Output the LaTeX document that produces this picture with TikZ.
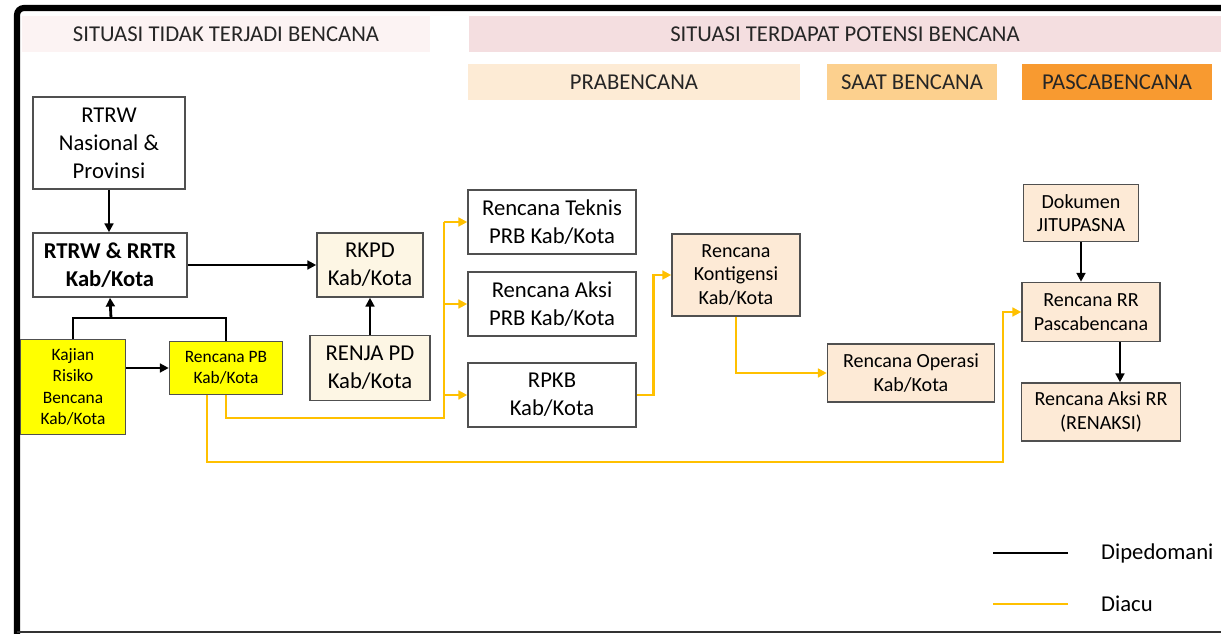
\documentclass[tikz,border=0pt]{standalone}
\usepackage{fontspec}
\setmainfont{Carlito}
\usepackage{tikz}
\usetikzlibrary{arrows.meta,positioning,calc}
\definecolor{titleLight}{RGB}{252,243,243}
\definecolor{sitPink}{RGB}{244,222,224}
\definecolor{praPeach}{RGB}{253,235,213}
\definecolor{saatOrange}{RGB}{252,208,142}
\definecolor{pascaOrange}{RGB}{248,154,48}
\definecolor{boxPeach}{RGB}{253,234,214}
\definecolor{boxCream}{RGB}{253,246,228}
\definecolor{kbYellow}{RGB}{255,255,0}
\definecolor{acuGold}{RGB}{255,192,0}
\definecolor{edgeGray}{RGB}{80,80,80}
\newcommand{\bigtxt}{\fontsize{12.9}{15.9}\selectfont}
\newcommand{\midtxt}{\fontsize{11.4}{13.4}\selectfont}
\newcommand{\smalltxt}{\fontsize{9.9}{12.2}\selectfont}

\begin{document}
\begin{tikzpicture}[x=0.02cm, y=-0.02cm,
  band/.style={inner sep=0pt, minimum height=0.72cm, font=\bigtxt, text=black!85},
  box/.style={draw=edgeGray, line width=0.9pt, align=center, inner sep=0pt, font=\bigtxt},
  pedline/.style={black, line width=1.6pt},
  pedoman/.style={pedline, -{Triangle[length=5pt,width=5pt]}},
  aculine/.style={acuGold, line width=1.5pt},
  acu/.style={aculine, -{Triangle[length=5pt,width=5pt]}}]
\useasboundingbox (0,0) rectangle (1221,634);
\draw[line width=3.5pt, rounded corners=4pt] (17,634) -- (17,8) -- (1230,8);
\draw[line width=0.8pt, black!80] (17,632) -- (1221,632);

% situasi / fase
\node[band, fill=titleLight, minimum width=8.16cm] (tidak) at (226,34) {SITUASI TIDAK TERJADI BENCANA};
\node[band, fill=sitPink, minimum width=15.06cm] (potensi) at (845,34) {SITUASI TERDAPAT POTENSI BENCANA};
\node[band, fill=praPeach, minimum width=6.64cm] (pra) at (634,82) {PRABENCANA};
\node[band, fill=saatOrange, minimum width=3.4cm] (saat) at (912,82) {SAAT BENCANA};
\node[band, fill=pascaOrange, minimum width=3.82cm] (pasca) at (1117,82) {PASCABENCANA};

% dokumen
\node[box, minimum width=3.04cm, minimum height=1.84cm] (nas) at (109,143) {RTRW\\Nasional \&\\Provinsi};
\node[box, minimum width=3.08cm, minimum height=1.28cm, font=\bigtxt\bfseries] (rtrw) at (110,265) {RTRW \& RRTR\\Kab/Kota};
\node[box, fill=kbYellow, minimum width=2.1cm, minimum height=1.9cm, font=\smalltxt] (kajian) at (73,387) {Kajian\\Risiko\\Bencana\\Kab/Kota};
\node[box, fill=kbYellow, minimum width=2.26cm, minimum height=1.06cm, font=\smalltxt] (pb) at (226,368) {Rencana PB\\Kab/Kota};
\node[box, fill=boxCream, minimum width=2.12cm, minimum height=1.28cm] (rkpd) at (370,265) {RKPD\\Kab/Kota};
\node[box, fill=boxCream, minimum width=2.4cm, minimum height=1.3cm] (renja) at (370,368) {RENJA PD\\Kab/Kota};
\node[box, minimum width=3.36cm, minimum height=1.28cm] (teknis) at (552,222) {Rencana Teknis\\PRB Kab/Kota};
\node[box, minimum width=3.36cm, minimum height=1.28cm] (aksi) at (552,304) {Rencana Aksi\\PRB Kab/Kota};
\node[box, minimum width=3.36cm, minimum height=1.28cm] (rpkb) at (552,395) {RPKB\\Kab/Kota};
\node[box, fill=boxPeach, minimum width=2.56cm, minimum height=1.64cm, font=\midtxt] (konti) at (736,275) {Rencana\\Kontigensi\\Kab/Kota};
\node[box, fill=boxPeach, minimum width=3.34cm, minimum height=1.16cm, font=\midtxt] (operasi) at (911,373) {Rencana Operasi\\Kab/Kota};
\node[box, fill=boxPeach, minimum width=2.3cm, minimum height=1.14cm, font=\midtxt] (doku) at (1081,213) {Dokumen\\JITUPASNA};
\node[box, fill=boxPeach, minimum width=2.76cm, minimum height=1.18cm, font=\midtxt] (rrpasca) at (1091,312) {Rencana RR\\Pascabencana};
\node[box, fill=boxPeach, minimum width=3.18cm, minimum height=1.16cm, font=\midtxt] (renaksi) at (1101,412) {Rencana Aksi RR\\(RENAKSI)};

% dipedomani
\coordinate (join) at (111,318);
\draw[pedoman] (nas.south) -- (nas.south |- rtrw.north);
\draw[pedoman] (rtrw) -- (rkpd);
\draw[pedline] (kajian.north) |- (join) -| (pb.north);
\draw[pedoman] (join) -- (rtrw.south);
\draw[pedoman] (kajian.east |- pb.west) -- (pb.west);
\draw[pedoman] (renja) -- (rkpd);
\draw[pedoman] (doku) -- (doku |- rrpasca.north);
\draw[pedoman] ([xshift=0.58cm]rrpasca.south) -- ([xshift=0.58cm]rrpasca.south |- renaksi.north);

% diacu
\coordinate (busb) at (444,418);
\coordinate (bend) at (1003,462);
\draw[aculine] (pb.south) |- (busb) -- (busb |- teknis);
\foreach \t in {teknis,aksi,rpkb}
  \draw[acu] (busb |- \t) -- (\t.west);
\draw[acu] (rpkb.east) -- ++(17,0) |- (konti.west);
\draw[acu] (konti.south) |- (operasi.west);
\draw[acu] ([xshift=-0.38cm]pb.south) |- (bend) |- (rrpasca.west);

% legenda
\node[anchor=west, font=\bigtxt] (lgped) at (1095,553) {Dipedomani};
\node[anchor=west, font=\bigtxt] (lgacu) at (1095,604) {Diacu};
\draw[pedline] ([xshift=-0.54cm]lgped.west) -- ++(-1.5cm,0);
\draw[aculine] ([xshift=-0.54cm]lgacu.west) -- ++(-1.5cm,0);
\end{tikzpicture}
\end{document}
